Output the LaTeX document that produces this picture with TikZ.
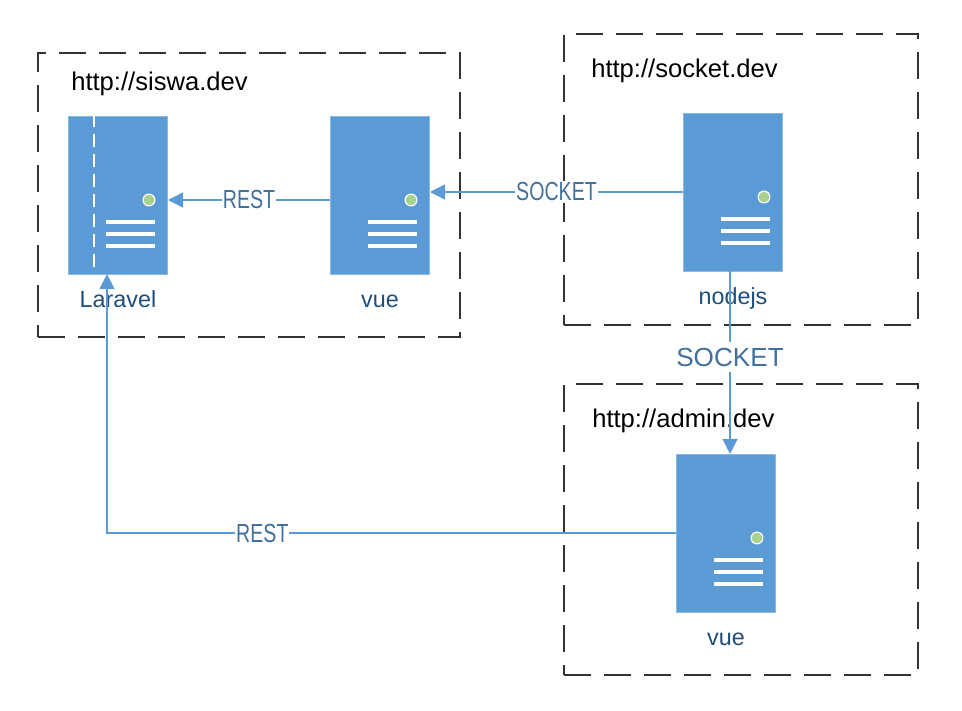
\documentclass[tikz,border=0pt]{standalone}
\usepackage{fontspec}
\setmainfont{Liberation Sans}
\usetikzlibrary{arrows.meta,calc}
\definecolor{srvblue}{HTML}{5B9BD5}
\definecolor{srvgreen}{HTML}{A9D18E}
\definecolor{linkblue}{HTML}{41719C}
\definecolor{namblue}{HTML}{1F4E79}
\tikzstyle{server}=[rectangle,
                    inner sep=0pt,
                    draw=srvblue!70!white,
                    fill=srvblue,
                    minimum width=74.6pt,
                    minimum height=118.2pt,
                    path picture={
                      \draw[white,fill=srvgreen,line width=0.9pt] ([shift={(31,5)}]path picture bounding box.center) circle (4.4pt);
                      \foreach \y in {27,39,51}
                        \draw[white,line width=2.7pt] ([shift={(-12,\y)}]path picture bounding box.center) -- ([shift={(37,\y)}]path picture bounding box.center);
                    }]
\tikzstyle{frame}=[rectangle,
                   inner sep=0pt,
                   draw=black!80,
                   line width=1.1pt,
                   dash pattern=on 20pt off 10pt]
\tikzstyle{title}=[anchor=base west,inner sep=0pt,font=\fontsize{19.2pt}{23pt}\selectfont]
\tikzstyle{srvname}=[inner sep=0pt,text=namblue,text height=13pt,text depth=4pt,font=\fontsize{17.5pt}{21pt}\selectfont]
\tikzstyle{link}=[draw=srvblue,line width=1.1pt,-{Triangle[length=11.25pt,width=11.25pt]}]
\tikzstyle{linktext}=[fill=white,inner sep=1pt,text=linkblue,font=\fontsize{19.6pt}{24pt}\selectfont]
\begin{document}
\begin{tikzpicture}[x=0.75pt,y=-0.75pt]
    \useasboundingbox (0,0) rectangle (962,710);
    % the three hosts
    \node[frame,minimum width=316.5pt,minimum height=213pt] (siswa) at (249,195) {};
    \node[frame,minimum width=265.5pt,minimum height=218.25pt] (socket) at (741,179.5) {};
    \node[frame,minimum width=265.5pt,minimum height=218.25pt] (admin) at (741,529.5) {};
    \node[title] (siswatitle) at (71,90) {http://siswa.dev};
    \node[title] (sockettitle) at (591,77) {http://socket.dev};
    \node[title] (admintitle) at (592,427) {http://admin.dev};

    % servers
    \node[server] (laravel) at (118,195) {};
    \node[server,node distance=196.5pt,right of=laravel] (vue) {};
    \node[server] (nodejs) at (733,192) {};
    \node[server] (vueadmin) at (726,533) {};
    \draw[white,line width=1.3pt,dash pattern=on 9.75pt off 5.25pt] ($(laravel.north)+(-24,-2)$) -- ($(laravel.south)+(-24,-6)$);

    \node[srvname,node distance=79.5pt,below of=laravel] (laravelname) {Laravel};
    \node[srvname,node distance=79.5pt,below of=vue] (vuename) {vue};
    \node[srvname,node distance=79.5pt,below of=nodejs] (nodejsname) {nodejs};
    \node[srvname,node distance=79.5pt,below of=vueadmin] (vueadminname) {vue};

    % connectors
    \coordinate (nodejsout) at ($(nodejs.south)+(-3,0)$);
    \coordinate (adminin) at (nodejsout |- vueadmin.north);
    \coordinate (laravelin) at ($(laravel.south)+(-11,0)$);
    \draw[link] ($(vue.west)+(0,5)$) -- node[linktext,xscale=0.75] (rest) {REST} ($(laravel.east)+(0,5)$);
    \draw[link] (nodejs.west) -- node[linktext,pos=0.5,xscale=0.75] (sock) {SOCKET} (vue.east |- nodejs.west);
    \draw[link] (nodejsout) -- node[linktext,pos=0.47,inner sep=4pt] (sockbig) {SOCKET} (adminin);
    \draw[link] (vueadmin.west) -- node[linktext,pos=0.727,xscale=0.75] (restlong) {REST} (laravelin |- vueadmin.west) -- (laravelin);
\end{tikzpicture}
\end{document}
